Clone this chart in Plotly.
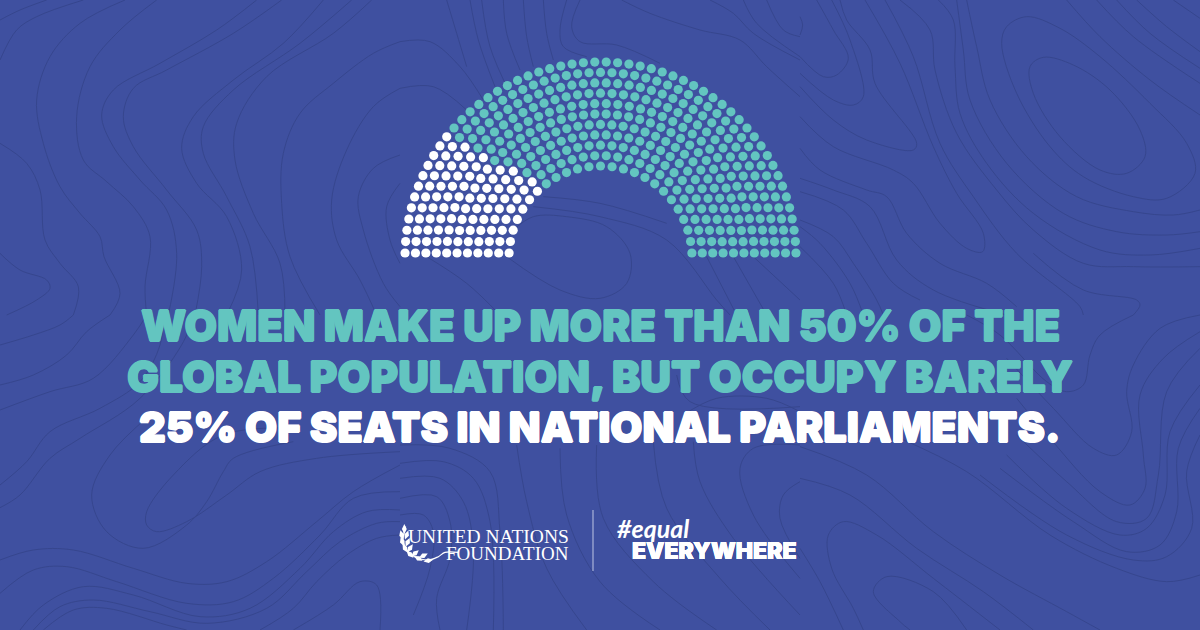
import numpy as np
import plotly.graph_objects as go

BG = "#3f50a0"
TEAL = "#63c5c0"
WHITE = "#ffffff"
LINE = "#36468e"

# seats per row, outer row first
row_seats = [54, 51, 48, 45, 42, 40, 37, 34, 31, 28, 25]
row_women = [12, 11, 11, 10, 10, 9, 9, 9, 8, 8, 7]
row_radius = [195.5, 185.1, 174.7, 164.3, 153.9, 143.5, 133.1, 122.7, 112.3, 101.9, 91.5]
center_x = 600.5
center_y = 257.5
base_y = 253.0

text_lines = [
    "WOMEN MAKE UP MORE THAN 50% OF THE",
    "GLOBAL POPULATION, BUT OCCUPY BARELY",
    "25% OF SEATS IN NATIONAL PARLIAMENTS.",
]
text_colors = [TEAL, TEAL, WHITE]
text_y = [325, 376, 427]
text_size = [42, 42.5, 41.5]

# background contour lines per 400x315 tile at 3x zoom
tile_top_left = [
    [(0,60),(60,30),(140,0)],
    [(0,180),(50,90),(110,50),(250,0)],
    [(375,0),(240,70),(150,170),(110,300),(130,430),(180,560),(240,640),(300,710),(312,770),(360,880),(330,945)],
    [(470,0),(360,90),(270,200),(230,350),(250,480),(320,545),(400,620),(450,710),(435,860),(440,945)],
    [(770,0),(650,90),(480,190),(340,270),(305,345),(340,440),(420,540),(500,630),(530,760),(505,945)],
    [(845,0),(700,100),(500,210),(400,265),(370,350),(400,440),(500,570),(590,690),(605,800),(585,945)],
    [(970,0),(850,130),(700,240),(580,350),(545,445),(590,550),(680,650),(725,810),(680,945)],
    [(1055,0),(900,130),(700,270),(610,380),(610,460),(680,590),(750,740),(775,945)],
    [(1115,0),(1000,100),(800,230),(710,370),(705,480),(760,640),(840,790),(855,945)],
    [(1200,125),(1120,160),(1000,250),(900,340),(850,460),(845,610),(870,770),(960,945)],
    [(1200,265),(1120,320),(1040,450),(995,600),(1010,720),(1080,840),(1130,945)],
    [(1200,465),(1120,505),(1075,590),(1090,690),(1150,850),(1200,920)],
    [(1200,550),(1160,620),(1170,720),(1200,790)],
    [(0,430),(80,490),(120,570),(135,720),(180,790),(235,860),(220,945)],
    [(0,760),(60,810),(140,840),(150,865),(110,900),(20,945)],
]
tile_top_mid = [
    [(0,125),(90,125),(180,200),(250,300)],
    [(0,265),(100,260),(200,330)],
    [(140,0),(170,100),(200,200)],
    [(210,0),(235,120),(285,260)],
    [(245,0),(270,140),(330,280)],
    [(310,0),(320,100),(360,210)],
    [(370,0),(380,110),(400,200)],
    [(430,0),(440,100),(460,180)],
    [(500,0),(480,90),(490,140),(560,170)],
    [(540,0),(515,80),(540,125),(650,135),(780,190)],
    [(665,0),(750,40),(900,90),(1020,120),(1100,200),(1200,290)],
    [(930,0),(1000,40),(1060,100),(1200,180)],
    [(1030,0),(1070,70),(1200,170)],
    [(1100,0),(1150,90),(1200,110)],
    [(400,620),(600,650),(800,720),(950,900),(990,945)],
    [(340,690),(400,650),(500,650),(620,680),(690,760),(680,850),(600,895),(480,870),(320,770)],
    [(430,590),(600,610),(800,670)],
    [(80,770),(200,850),(300,945)],
    [(920,770),(1010,945)],
    [(1000,770),(1100,945)],
    [(1060,770),(1200,900)],
]
tile_top_right = [
    [(0,50),(8,75),(0,105)],
    [(50,0),(100,90),(145,175),(110,225),(70,230),(0,170)],
    [(95,0),(150,120),(190,290),(160,315),(100,300),(0,220)],
    [(120,0),(140,60),(210,150),(225,250),(350,430),(340,450),(200,420),(100,360),(0,260)],
    [(195,0),(300,190),(400,440),(470,580),(550,700),(548,755),(500,745),(420,670),(340,550),(280,510),(100,440),(0,350)],
    [(255,0),(340,170),(420,430),(520,590),(650,760),(840,920),(850,945)],
    [(300,0),(390,90),(405,210),(470,400),(590,570),(700,690),(850,790),(1000,800),(1200,800)],
    [(415,0),(460,60),(465,200),(480,340),(560,490),(700,640),(900,750),(1050,765),(1200,745)],
    [(470,0),(490,150),(510,300),(620,490),(790,640),(950,695),(1100,705),(1200,695)],
    [(500,0),(530,140),(570,300),(680,470),(830,590),(1000,635),(1120,645),(1200,630)],
    [(680,50),(620,80),(605,130),(650,280),(750,440),(850,530),(1000,590),(1100,595),(1185,520),(1160,430),(1050,310),(900,170),(780,85),(680,50)],
    [(730,172),(690,200),(700,280),(780,410),(900,510),(980,520),(1035,470),(1020,390),(930,270),(820,195),(730,172)],
    [(800,0),(900,110),(1050,240),(1200,345)],
    [(890,0),(1000,110),(1200,250)],
    [(950,0),(1050,100),(1200,205)],
    [(1010,0),(1100,80),(1200,155)],
    [(1120,0),(1200,55)],
    [(0,445),(60,510),(200,570),(260,590),(320,700),(420,790),(560,850),(650,920)],
    [(0,535),(100,570),(210,620),(290,780),(400,870),(620,945)],
    [(0,575),(130,630),(200,730),(280,850),(360,900)],
    [(0,660),(100,710),(160,790),(230,900),(250,945)],
    [(0,680),(60,730),(150,850),(190,945)],
    [(0,740),(100,850),(140,945)],
    [(700,760),(850,870),(1010,900),(1020,915),(1000,945)],
]
tile_bottom_left = [
    [(0,90),(100,60),(180,30),(220,0)],
    [(0,210),(100,180),(200,120),(260,50),(330,0)],
    [(0,285),(150,230),(280,190),(400,60),(440,0)],
    [(0,510),(80,440),(150,350),(300,280),(420,200),(480,90),(490,0)],
    [(0,578),(60,540),(150,430),(240,370),(420,250),(560,60),(570,0)],
    [(1200,410),(950,430),(780,470),(680,540),(560,620),(470,650),(440,630),(440,590),(520,480),(670,360),(900,340)],
    [(880,380),(700,430),(670,470),(620,560),(560,630),(430,700),(320,650),(275,540),(330,420),(450,300)],
    [(0,735),(100,705),(220,705),(400,760),(560,805),(680,800),(800,740),(950,620),(1060,530),(1200,450)],
    [(0,835),(100,765),(200,755),(350,800),(560,865),(700,860),(820,790),(960,660),(1060,550),(1200,530)],
    [(60,945),(130,870),(250,815),(400,840),(600,905),(750,880),(900,760),(1000,650),(1100,590),(1200,585)],
    [(100,945),(180,875),(280,855),(450,890),(620,925),(800,880),(920,770),(1020,680),(1130,625),(1200,620)],
    [(130,945),(220,885),(320,880),(500,930),(560,945)],
    [(880,945),(1000,870),(1080,800),(1130,810),(1140,945)],
    [(1200,660),(1130,670),(1040,720),(950,800),(880,880),(780,945)],
]
tile_bottom_mid = [
    [(0,390),(150,400),(270,470),(300,650),(310,945)],
    [(0,445),(130,440),(220,490),(270,620),(280,945)],
    [(0,490),(120,490),(190,560),(220,700),(200,945)],
    [(0,550),(110,545),(150,620),(150,730),(110,850),(120,945)],
    [(0,600),(70,600),(100,650),(90,760),(40,900)],
    [(350,390),(380,560),(440,760),(560,945)],
    [(480,400),(500,600),(600,800),(780,945)],
    [(590,390),(610,610),(760,800),(950,945)],
    [(760,380),(800,580),(960,790),(1110,945)],
    [(880,380),(900,500),(1000,670),(1200,900)],
    [(1200,390),(1060,400),(1020,460),(1060,600),(1200,790)],
    [(1200,500),(1150,540),(1140,610),(1200,730)],
    [(850,300),(950,250),(1100,250),(1200,290)],
    [(830,180),(870,260),(1200,275)],
]
tile_bottom_right = [
    [(1000,0),(900,60),(870,120),(850,210),(800,230),(740,200),(600,60),(500,0)],
    [(1200,0),(1080,40),(1000,150),(980,230),(995,350),(950,420),(880,400),(760,280),(620,130)],
    [(1200,50),(1090,130),(1020,240),(1030,420),(1035,520),(990,570),(900,530),(750,370),(650,250)],
    [(1200,100),(1100,230),(1075,480),(1040,610),(950,620),(800,500),(650,360)],
    [(1200,210),(1110,350),(1095,540),(1040,640),(960,660),(800,580),(620,420)],
    [(1200,280),(1135,400),(1130,590),(1080,690),(980,710),(820,620),(600,460)],
    [(1200,360),(1160,470),(1175,640),(1100,725),(1000,735),(800,660),(540,480)],
    [(1200,780),(1100,800),(950,760),(750,660),(500,470),(300,370)],
    [(0,395),(200,480),(400,650),(600,780),(800,890),(900,945)],
    [(0,490),(150,540),(350,700),(550,830),(700,945)],
    [(500,945),(400,830),(260,785),(220,830),(300,920),(330,945)],
    [(190,945),(160,880),(95,760),(85,660),(130,620),(230,660),(400,790),(600,945)],
    [(0,700),(60,800),(130,945)],
]
tiles = [
    (0, 0, tile_top_left), (400, 0, tile_top_mid), (800, 0, tile_top_right),
    (0, 315, tile_bottom_left), (400, 315, tile_bottom_mid), (800, 315, tile_bottom_right),
]

# laurel of the foundation logo, read at 3x zoom from (395,515)
laurel_stem = [(32,35),(25,80),(50,120),(100,135),(130,125),(150,112),(190,112)]
leaf_x = [28, 20, 35, 22, 38, 30, 45, 45, 60, 70, 85, 100]
leaf_y = [42, 60, 60, 80, 82, 100, 100, 118, 115, 130, 122, 137]
leaf_angle = [0, -15, 20, -20, 25, -30, 35, -45, 50, -60, 65, 80]


def heavy(color, w=0.7):
    # thickens the glyphs, the reference face is heavier than Inter Black
    return "%spx 0 0 %s, -%spx 0 0 %s, 0 %spx 0 %s, 0 -%spx 0 %s" % (w, color, w, color, w, color, w, color)


fig = go.Figure()

for ox, oy, lines in tiles:
    for pts in lines:
        fig.add_trace(go.Scatter(
            x=[ox + p[0] / 3 for p in pts], y=[oy + p[1] / 3 for p in pts],
            mode="lines", line=dict(color=LINE, width=1, shape="spline", smoothing=1),
            hoverinfo="skip",
        ))

# seats: each row runs from the left end to the right end of its arc
women_x, women_y, other_x, other_y = [], [], [], []
for seats, women, r in zip(row_seats, row_women, row_radius):
    start = np.arcsin((center_y - base_y) / r)
    angles = np.linspace(start, np.pi - start, seats)
    xs = center_x - r * np.cos(angles)
    ys = center_y - r * np.sin(angles)
    women_x += list(xs[:women])
    women_y += list(ys[:women])
    other_x += list(xs[women:])
    other_y += list(ys[women:])

fig.add_trace(go.Scatter(x=other_x, y=other_y, mode="markers",
                         marker=dict(color=TEAL, size=9.2, line=dict(width=0))))
fig.add_trace(go.Scatter(x=women_x, y=women_y, mode="markers",
                         marker=dict(color=WHITE, size=9.2, line=dict(width=0))))

fig.add_trace(go.Scatter(
    x=[395 + p[0] / 3 for p in laurel_stem], y=[515 + p[1] / 3 for p in laurel_stem],
    mode="lines", line=dict(color=WHITE, width=1.2, shape="spline"),
))
fig.add_trace(go.Scatter(
    x=[395 + v / 3 for v in leaf_x], y=[515 + v / 3 for v in leaf_y], mode="markers",
    marker=dict(color=WHITE, size=7, symbol="diamond-tall", angle=leaf_angle, line=dict(width=0)),
))

for line, color, y, size in zip(text_lines, text_colors, text_y, text_size):
    fig.add_annotation(x=600, y=y, text=line, showarrow=False, xanchor="center", yanchor="middle",
                       font=dict(family="Inter", size=size, color=color, weight=900, shadow=heavy(color)))

fig.add_annotation(x=571, y=536, text="UNITED NATIONS", showarrow=False, xanchor="right", yanchor="middle",
                   font=dict(family="Liberation Serif", size=19.5, color=WHITE))
fig.add_annotation(x=571, y=553, text="FOUNDATION", showarrow=False, xanchor="right", yanchor="middle",
                   font=dict(family="Liberation Serif", size=19, color=WHITE))
fig.add_annotation(x=615, y=528, text="<i>#equal</i>", showarrow=False, xanchor="left", yanchor="middle",
                   font=dict(family="Lato", size=25, color=WHITE, weight=700))
fig.add_annotation(x=799, y=551, text="EVERYWHERE", showarrow=False, xanchor="right", yanchor="middle",
                   font=dict(family="Inter", size=23, color=WHITE, weight=900, shadow=heavy(WHITE, 0.3)))

fig.add_shape(type="line", x0=593, x1=593, y0=510, y1=571, line=dict(color="#aab3d8", width=1.2))

fig.update_layout(
    width=1200, height=630, margin=dict(l=0, r=0, t=0, b=0),
    paper_bgcolor=BG, plot_bgcolor=BG, showlegend=False,
    xaxis=dict(range=[0, 1200], visible=False, fixedrange=True),
    yaxis=dict(range=[630, 0], visible=False, fixedrange=True),
)
fig.write_html("out.html", config=dict(displayModeBar=False),
               post_script="document.body.style.margin='0';document.body.style.background='%s';" % BG)
